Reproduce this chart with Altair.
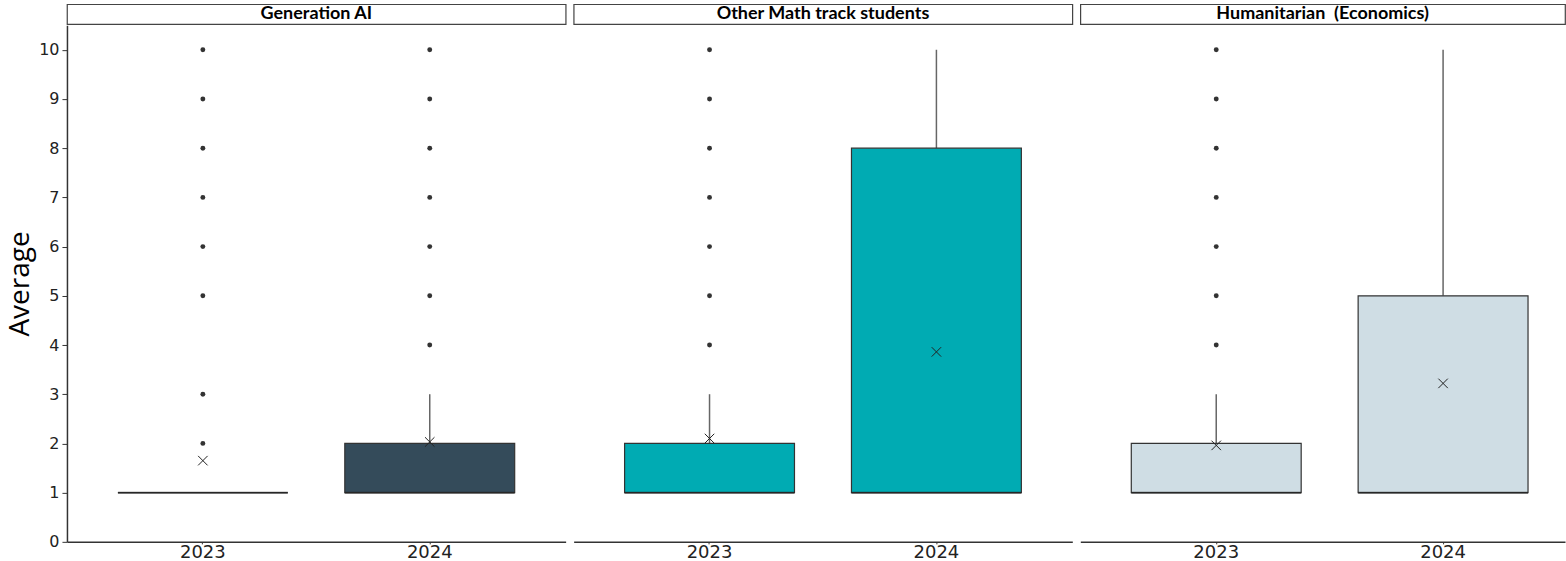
import altair as alt
import pandas as pd

# ---- data ----
groups = ["Generation AI", "Other Math track students", "Humanitarian \u00a0(Economics)"]
years = ["2023", "2024"]
colors = ["#344B5A", "#00ABB3", "#CFDDE4"]

# box statistics per group, per year (2023, 2024)
q1 = [[1, 1], [1, 1], [1, 1]]
median = [[1, 1], [1, 1], [1, 1]]
q3 = [[1, 2], [2, 8], [2, 5]]
lower = [[1, 1], [1, 1], [1, 1]]
upper = [[1, 3], [3, 10], [3, 10]]
mean = [[1.65, 2.03], [2.1, 3.86], [1.96, 3.22]]
outliers = [
    [[2, 3, 5, 6, 7, 8, 9, 10], [4, 5, 6, 7, 8, 9, 10]],
    [[4, 5, 6, 7, 8, 9, 10], []],
    [[4, 5, 6, 7, 8, 9, 10], []],
]

rows, orows = [], []
for gi, g in enumerate(groups):
    for yi, yr in enumerate(years):
        rows.append(dict(group=g, year=yr, q1=q1[gi][yi], median=median[gi][yi],
                         q3=q3[gi][yi], lower=lower[gi][yi], upper=upper[gi][yi],
                         mean=mean[gi][yi]))
        for v in outliers[gi][yi]:
            orows.append(dict(group=g, year=yr, value=v))
stats = pd.DataFrame(rows)
outs = pd.DataFrame(orows)
strip_df = pd.DataFrame({"group": groups})

XSHAPE = "M-1,-1L1,1M1,-1L-1,1"
Y_SCALE = alt.Scale(domain=[0, 10.5], nice=False, zero=True)
PLOT_H = 517
BOX_W = 170
NO_VIEW = alt.ViewBackground(stroke="transparent", strokeWidth=0)


def panel(i, width, po, align, show_axis):
    g = groups[i]
    xenc = alt.X(
        "year:N",
        scale=alt.Scale(paddingInner=0, paddingOuter=po, align=align),
        axis=alt.Axis(title=None, labelAngle=0, labelFont="DejaVu Sans",
                      labelFontSize=18, labelColor="#222", domainColor="#333",
                      domainWidth=1.5, tickColor="#333", tickSize=2,
                      labelPadding=0, grid=False),
    )
    if show_axis:
        yaxis = alt.Axis(title="Average", values=list(range(0, 11)), grid=False,
                         labelFont="DejaVu Sans", labelFontSize=16, labelColor="#222",
                         tickSize=5, tickColor="#333", domainColor="#333",
                         domainWidth=1.5, labelPadding=3,
                         titleFont="Open Sans", titleFontSize=28,
                         titleFontWeight="normal", titleColor="#000", titlePadding=4)
    else:
        yaxis = None

    base = alt.Chart(stats).transform_filter(alt.datum.group == g)
    whisk_hi = base.mark_rule(color="#666", strokeWidth=1.5).encode(
        x=xenc, y=alt.Y("q3:Q", scale=Y_SCALE, axis=yaxis), y2="upper:Q")
    whisk_lo = base.mark_rule(color="#666", strokeWidth=1.5).encode(
        x=xenc, y=alt.Y("lower:Q", scale=Y_SCALE, axis=yaxis), y2="q1:Q")
    box = base.mark_bar(size=BOX_W, color=colors[i], stroke="#333",
                        strokeWidth=1.2).encode(
        x=xenc, y=alt.Y("q1:Q", scale=Y_SCALE, axis=yaxis), y2="q3:Q")
    med = base.mark_tick(size=BOX_W, thickness=2, color="#222").encode(
        x=xenc, y=alt.Y("median:Q", scale=Y_SCALE, axis=yaxis))
    mn = base.mark_point(shape=XSHAPE, size=90, filled=False, color="#222",
                         strokeWidth=1, opacity=1).encode(
        x=xenc, y=alt.Y("mean:Q", scale=Y_SCALE, axis=yaxis))
    pts = alt.Chart(outs).transform_filter(alt.datum.group == g).mark_circle(
        size=24, color="#333", opacity=1).encode(
        x=xenc, y=alt.Y("value:Q", scale=Y_SCALE, axis=yaxis))

    plot = alt.layer(whisk_hi, whisk_lo, box, med, pts, mn).properties(
        width=width, height=PLOT_H, view=NO_VIEW)

    strip = alt.Chart(strip_df).transform_filter(alt.datum.group == g).mark_text(
        font="Lato", fontWeight="bold", fontSize=18, color="#000").encode(
        text="group:N").properties(
        width=width, height=20,
        view=alt.ViewBackground(stroke="#444", strokeWidth=1.2))
    return alt.vconcat(strip, plot, spacing=0)


chart = alt.hconcat(
    panel(0, 499, 0.099, 0.5, True),
    panel(1, 499, 0.099, 0.5, False),
    panel(2, 485, 0.0683, 0.726, False),
    spacing=6,
).properties(
    padding={"left": 6, "top": 3, "right": 0, "bottom": 0}
).configure_view(stroke="transparent", strokeWidth=0).configure(background="white")

chart.save("out.html", embed_options={"renderer": "svg", "actions": False})
